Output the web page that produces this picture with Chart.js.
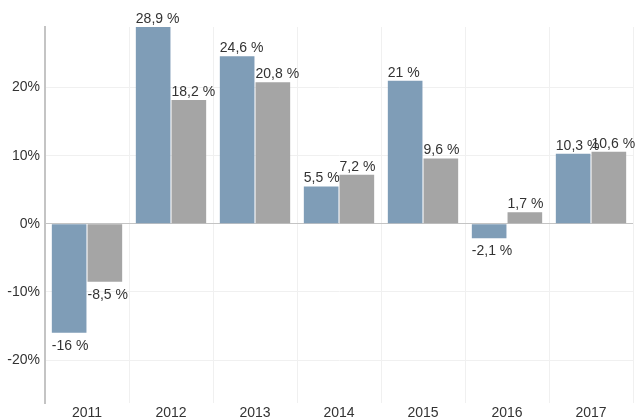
<!DOCTYPE html>
<html>
<head>
<meta charset="utf-8">
<script src="https://cdn.jsdelivr.net/npm/chart.js@4/dist/chart.umd.min.js"></script>
<style>
  html, body { margin: 0; padding: 0; background: #fff; }
  #wrap { width: 636px; height: 419px; position: relative; }
</style>
</head>
<body>
<div id="wrap"><canvas id="chart"></canvas></div>
<script>
const years = ['2011', '2012', '2013', '2014', '2015', '2016', '2017'];
const seriesA = [-16, 28.9, 24.6, 5.5, 21, -2.1, 10.3];
const seriesB = [-8.5, 18.2, 20.8, 7.2, 9.6, 1.7, 10.6];

const colors = {
    blue: '#7f9db7',
    gray: '#a5a5a5',
    text: '#333333',
    grid: '#f0f0f0',
    axis: '#c4c4c4',
};

const fontFamily = '"Liberation Sans", Arial, Helvetica, sans-serif';

// draws the "28,9 %" labels above / below each bar
const valueLabels = {
    id: 'valueLabels',
    afterDatasetsDraw(chart) {
        const ctx = chart.ctx;
        ctx.save();
        ctx.font = `14px ${fontFamily}`;
        ctx.fillStyle = colors.text;
        ctx.textAlign = 'left';
        chart.data.datasets.forEach((ds, di) => {
            chart.getDatasetMeta(di).data.forEach((bar, i) => {
                const v = ds.data[i];
                const text = String(v).replace('.', ',') + ' %';
                const left = bar.x - bar.width / 2;
                if (v >= 0) {
                    ctx.textBaseline = 'bottom';
                    ctx.fillText(text, left, bar.y - 1);
                } else {
                    ctx.textBaseline = 'top';
                    ctx.fillText(text, left, bar.y + 6);
                }
            });
        });
        ctx.restore();
    }
};

new Chart(document.getElementById('chart'), {
    type: 'bar',
    data: {
        labels: years,
        datasets: [
            { data: seriesA, backgroundColor: colors.blue, borderWidth: 0,
              categoryPercentage: 0.85, barPercentage: 0.97 },
            { data: seriesB, backgroundColor: colors.gray, borderWidth: 0,
              categoryPercentage: 0.85, barPercentage: 0.97 },
        ]
    },
    options: {
        responsive: true,
        maintainAspectRatio: false,
        animation: false,
        layout: { padding: { top: 27, right: 3, left: 0, bottom: 0 } },
        plugins: {
            legend: { display: false },
            tooltip: { enabled: false },
        },
        scales: {
            x: {
                grid: { color: colors.grid, drawTicks: false, offset: true },
                border: { display: false },
                ticks: {
                    color: colors.text,
                    font: { family: fontFamily, size: 14 },
                    padding: 2,
                },
                afterFit: (scale) => { scale.height = 16; },
            },
            y: {
                min: -26.3,
                max: 28.9,
                grid: {
                    drawTicks: false,
                    color: (c) => c.tick && c.tick.value === 0 ? colors.axis : colors.grid,
                },
                border: { color: colors.axis, width: 2 },
                ticks: {
                    stepSize: 10,
                    includeBounds: false,
                    color: colors.text,
                    padding: 5,
                    font: { family: fontFamily, size: 14 },
                    callback: (v) => v + '%',
                },
                afterFit: (scale) => { scale.width = 45; },
            }
        }
    },
    plugins: [valueLabels]
});
</script>
</body>
</html>
